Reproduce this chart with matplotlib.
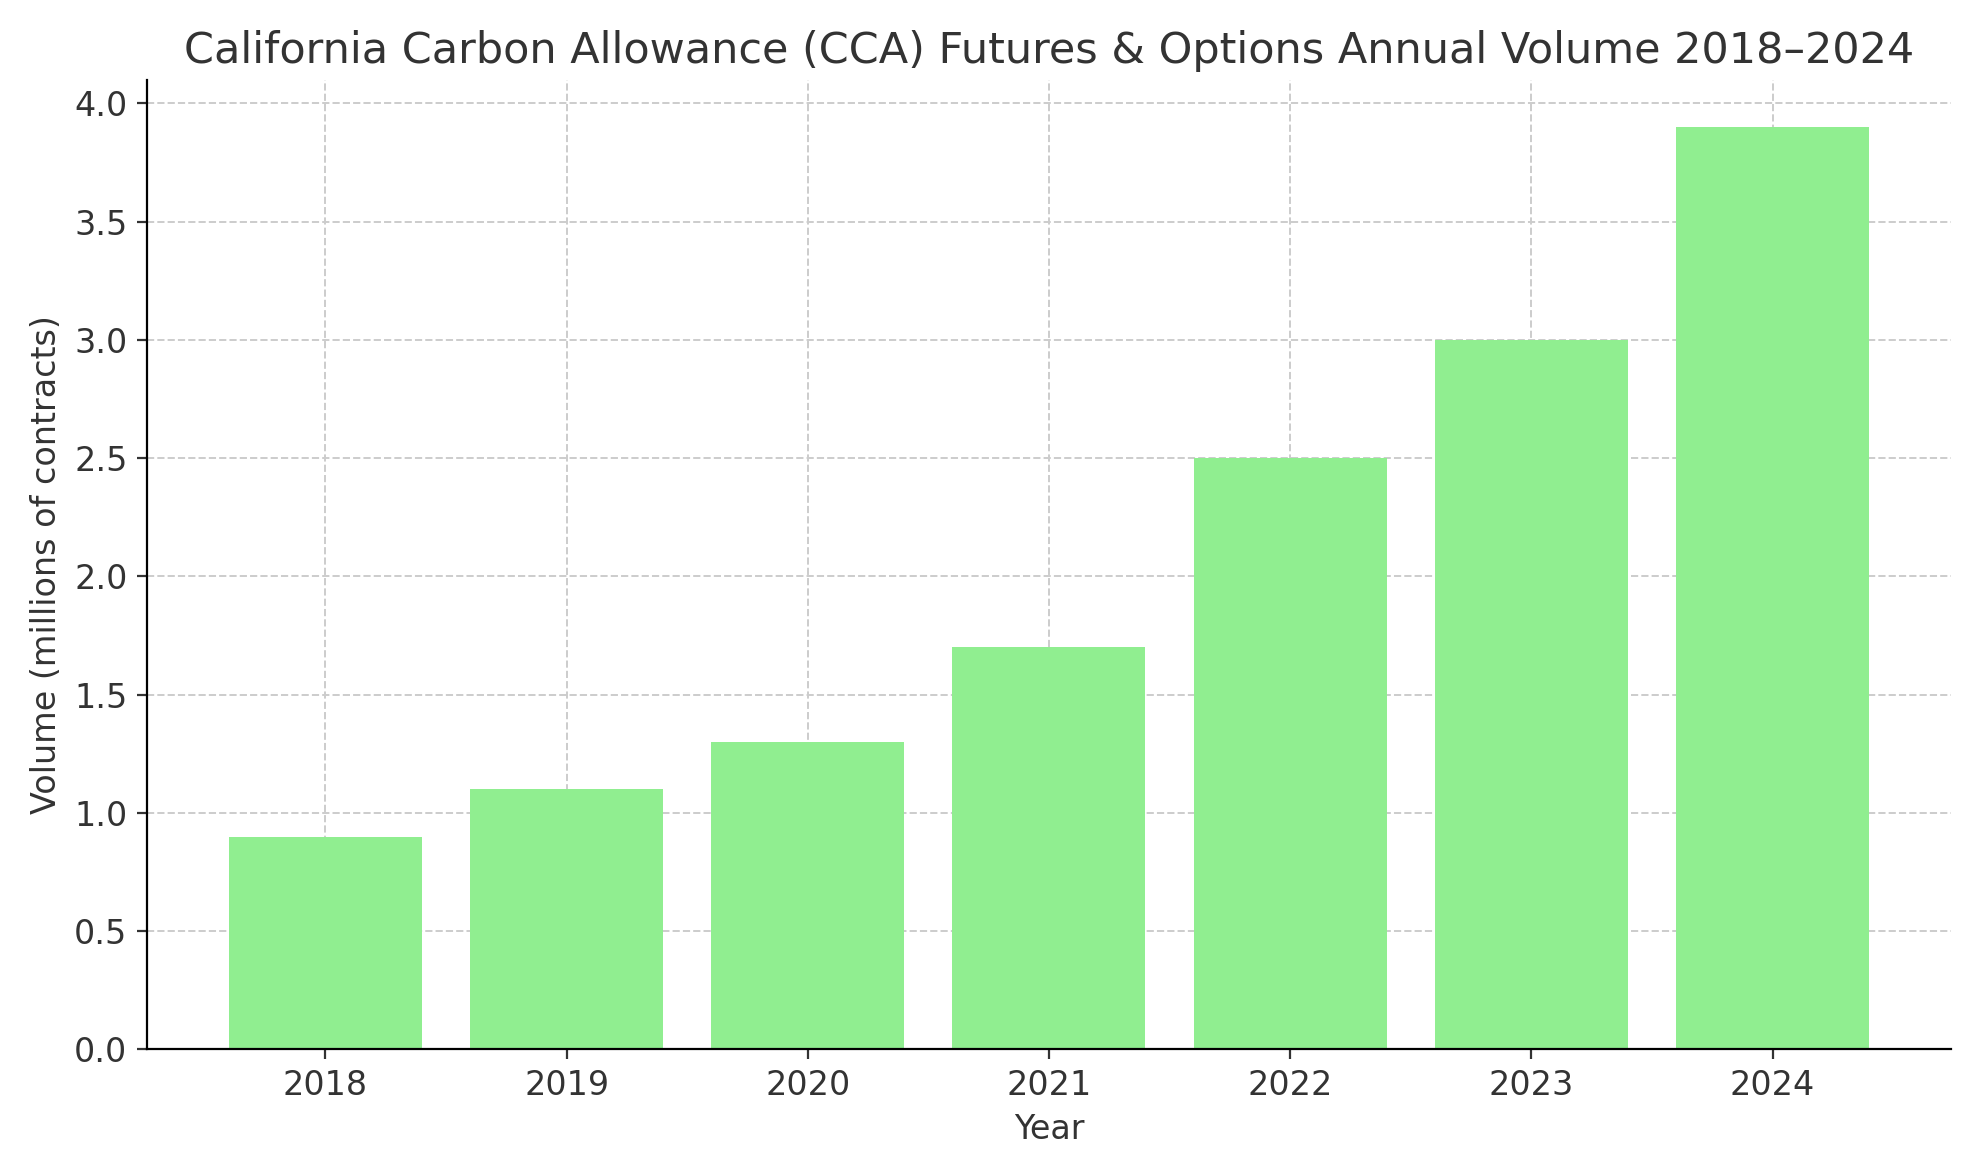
import matplotlib
matplotlib.use('Agg')
import matplotlib.pyplot as plt

# Dados do gráfico
anos = ['2018', '2019', '2020', '2021', '2022', '2023', '2024']
volumes = [0.9, 1.1, 1.3, 1.7, 2.5, 3.0, 3.9]

fig, ax = plt.subplots(figsize=(9.905, 5.88), dpi=200)
ax.bar(anos, volumes, color='lightgreen', width=0.8, zorder=2)

ax.set_title('California Carbon Allowance (CCA) Futures & Options Annual Volume 2018–2024',
             fontsize=15.5, color='#333333')
ax.set_xlabel('Year', fontsize=12, color='#333333')
ax.set_ylabel('Volume (millions of contracts)', fontsize=12, color='#333333')
ax.set_yticks([0, 0.5, 1.0, 1.5, 2.0, 2.5, 3.0, 3.5, 4.0])
ax.set_ylim(0, 4.1)
ax.tick_params(labelsize=12, colors='#333333')
ax.grid(True, linestyle='--', color='#cccccc', linewidth=0.7, zorder=0)
ax.spines['top'].set_visible(False)
ax.spines['right'].set_visible(False)

plt.tight_layout()
plt.savefig('out.png')
